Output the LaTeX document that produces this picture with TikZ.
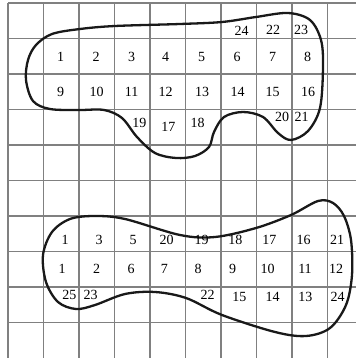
\documentclass[tikz,border=0pt]{standalone}
\usepackage{fontspec}
\setmainfont{Liberation Serif}
\begin{document}
\begin{tikzpicture}[x=1pt,y=-1pt,
  gridline/.style={draw=black!50, line width=1.4pt},
  blob/.style={draw=black!90, line width=2.3pt},
  num/.style={inner sep=0pt, font=\fontsize{14}{14}\selectfont}]
\useasboundingbox (0,0) rectangle (356,358);
\fill[white] (0,0) rectangle (356,358);
% grid
\foreach \k in {0,...,9} {
  \draw[gridline] ({8+35.5*\k},3) -- ({8+35.5*\k},358);
  \draw[gridline] (8,{3+35.5*\k}) -- (356,{3+35.5*\k});
}
% top region
\draw[blob] plot[smooth cycle, tension=0.55] coordinates {
  (36,45) (52,34) (80,29) (115,26) (180,24) (222,22) (256,17) (288,13)
  (310,20) (321,40) (323,67) (320,108) (308,131) (291,140)
  (278,133) (263,117) (243,112) (224,117) (214,132) (209,147)
  (195,156) (176,158) (155,153) (137,137) (122,118) (104,110)
  (79,110) (50,109) (33,101) (26,80) (28,60)};
% bottom region
\draw[blob] plot[smooth cycle, tension=0.55] coordinates {
  (43,255) (52,232) (70,219) (95,216) (125,219) (180,235)
  (215,237) (256,228) (291,215) (318,201) (333,203) (344,216)
  (351,240) (352,275) (346,305) (330,328) (306,336) (275,332)
  (222,315) (186,298) (155,292) (125,294) (95,305) (76,309)
  (58,302) (46,282)};
% top numbers
\foreach \t/\x/\y/\n in {
  24/241.7/30.5/ta, 22/273/30/tb, 23/301/30/tc,
  1/60.7/56.5/t1, 2/96/56.5/t2, 3/131.7/56.5/t3, 4/165.7/56.5/t4,
  5/201.7/56.5/t5, 6/237/56.5/t6, 7/272.7/56.5/t7, 8/307.7/56.5/t8,
  9/60.7/91.7/t9, 10/96.7/91.7/t10, 11/131.7/91.7/t11, 12/165.7/91.7/t12,
  13/202/91.7/t13, 14/237.7/91.7/t14, 15/272.7/91.7/t15, 16/308/91.7/t16,
  19/139.3/122.7/t19, 17/168.3/126.7/t17, 18/197.7/123.3/t18,
  20/282/117.3/t20, 21/301.7/117.3/t21}
  \node[num] (\n) at (\x,\y) {\t};
% bottom numbers
\foreach \t/\x/\y/\n in {
  1/65/239.7/ba, 3/99/239.7/bb, 5/133/239.7/bc, 20/166.7/239.7/bd,
  19/201.7/240.3/be, 18/235.3/240.3/bf, 17/269.3/240.3/bg,
  16/303.7/240.3/bh, 21/337/240.3/bi,
  1/62/268.7/ca, 2/96.7/268.7/cb, 6/131/268.7/cc, 7/164.3/268.7/cd,
  8/198/268.7/ce, 9/232.7/268.7/cf, 10/267.7/268.7/cg, 11/305/268.7/ch,
  12/336/268.7/ci,
  25/69.3/295.3/da, 23/90.7/295.3/db, 22/207.7/294.7/dc,
  15/239.3/297.3/dd, 14/272.7/297.3/de, 13/305.3/297.3/df, 24/337.7/297/dg}
  \node[num] (\n) at (\x,\y) {\t};
\end{tikzpicture}
\end{document}
